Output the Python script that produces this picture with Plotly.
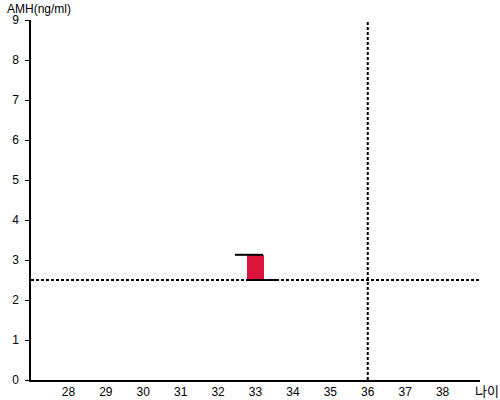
import plotly.graph_objects as go

# Data
ages = [33]
amh_low = [2.5]
amh_high = [3.13]
ref_age = 36
ref_amh = 2.5
x_ticks = [28, 29, 30, 31, 32, 33, 34, 35, 36, 37, 38]
y_ticks = [0, 1, 2, 3, 4, 5, 6, 7, 8, 9]

fig = go.Figure()

fig.add_trace(go.Bar(
    x=ages,
    y=[h - l for h, l in zip(amh_high, amh_low)],
    base=amh_low,
    width=0.43,
    marker=dict(color="#DC143C", line=dict(width=0)),
    showlegend=False,
    hoverinfo="skip",
))

# Caps (top and bottom lines)
for a, hi in zip(ages, amh_high):
    fig.add_trace(go.Scatter(x=[a - 0.55, a + 0.2], y=[hi, hi], mode="lines",
                             line=dict(color="black", width=2), showlegend=False, hoverinfo="skip"))
for a, lo in zip(ages, amh_low):
    fig.add_trace(go.Scatter(x=[a - 0.25, a + 0.55], y=[lo, lo], mode="lines",
                             line=dict(color="black", width=2), showlegend=False, hoverinfo="skip"))

fig.add_shape(type="line", xref="paper", yref="y", x0=0, x1=1, y0=ref_amh, y1=ref_amh,
              line=dict(color="black", width=2, dash="3px,2px"))
fig.add_shape(type="line", xref="x", yref="paper", x0=ref_age, x1=ref_age, y0=0, y1=1,
              line=dict(color="black", width=2, dash="3px,2px"))

fig.update_layout(
    width=500, height=400,
    margin=dict(l=31, r=20, t=20, b=20, autoexpand=False),
    plot_bgcolor="white", paper_bgcolor="white",
    font=dict(family="Liberation Sans, Arial, sans-serif", size=12, color="black"),
    bargap=0,
    xaxis=dict(range=[27, 39], tickvals=x_ticks, ticktext=[str(v) for v in x_ticks],
               showgrid=False, zeroline=False, showline=True, linecolor="black", linewidth=1.5,
               ticks="", fixedrange=True, automargin=False),
    yaxis=dict(range=[0, 9], tickvals=y_ticks, showgrid=False, zeroline=False,
               showline=True, linecolor="black", linewidth=1.5,
               ticks="outside", ticklen=4, tickcolor="black", tickwidth=1, fixedrange=True,
               automargin=False, ticklabelstandoff=4),
    annotations=[
        dict(text="AMH(ng/ml)", xref="paper", yref="paper", x=-0.058, y=1.03,
             xanchor="left", yanchor="middle", showarrow=False,
             font=dict(size=12, color="black")),
        dict(text="나이", xref="paper", yref="paper", x=1.015, y=-0.028,
             xanchor="center", yanchor="middle", showarrow=False,
             font=dict(family="Noto Sans CJK KR", size=13, color="black")),
    ],
)

fig.write_html("out.html", config={"displayModeBar": False},
               post_script="document.body.style.margin='0';")
